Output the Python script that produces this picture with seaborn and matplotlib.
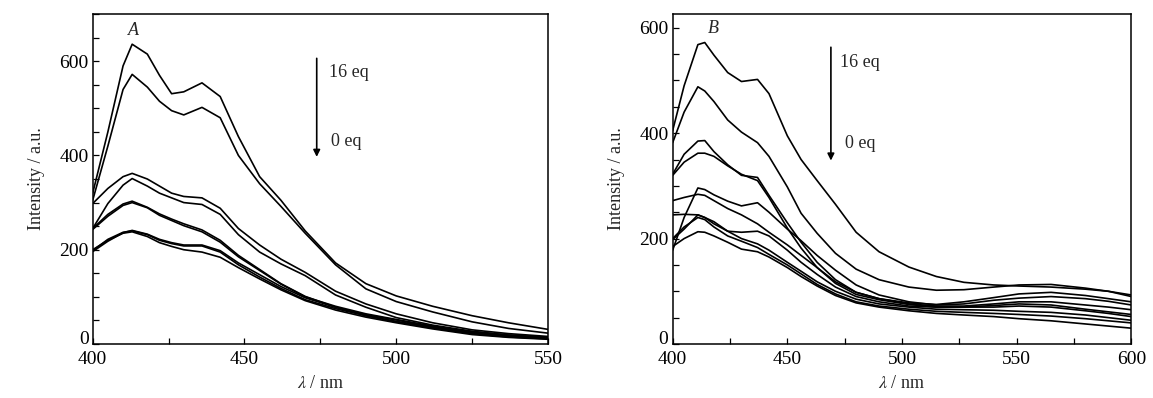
import numpy as np
import pandas as pd
import seaborn as sns
import matplotlib
matplotlib.use('Agg')
import matplotlib.pyplot as plt
import matplotlib.transforms as mtransforms
from matplotlib.ticker import MultipleLocator

sns.set_theme(style='ticks')
plt.rcParams['font.family'] = ['Liberation Serif', 'DejaVu Serif']
plt.rcParams['mathtext.fontset'] = 'stix'

# panel A : 400-550 nm
wl_a = [400, 405, 410, 413, 418, 422, 426, 430, 436, 442, 448,
        455, 462, 470, 480, 490, 500, 512, 525, 537, 550]
a1 = [320, 450, 590, 636, 615, 570, 531, 535, 554, 525, 440, 355, 305, 240, 172, 128, 102, 80, 60, 45, 31]
a2 = [305, 420, 540, 572, 545, 515, 495, 486, 502, 480, 400, 340, 292, 235, 168, 117, 90, 68, 47, 33, 23]
a3 = [298, 330, 355, 362, 350, 335, 320, 313, 310, 288, 245, 210, 180, 152, 112, 85, 64, 45, 30, 22, 16]
a4 = [245, 298, 337, 351, 335, 320, 310, 300, 296, 275, 232, 195, 170, 145, 104, 78, 56, 40, 27, 19, 14]
a5 = [245, 275, 297, 303, 290, 276, 265, 255, 242, 220, 188, 158, 128, 101, 78, 62, 51, 36, 24, 17, 12]
a6 = [243, 271, 294, 300, 289, 273, 262, 251, 238, 216, 185, 156, 127, 100, 80, 64, 52, 38, 26, 19, 14]
a7 = [198, 222, 237, 240, 232, 220, 213, 208, 208, 195, 168, 142, 118, 94, 75, 60, 48, 35, 23, 16, 12]
a8 = [200, 220, 235, 238, 228, 215, 207, 200, 195, 184, 162, 138, 115, 92, 72, 57, 45, 32, 20, 14, 10]
a9 = [196, 218, 236, 241, 233, 222, 215, 210, 210, 198, 172, 147, 122, 98, 78, 60, 47, 34, 22, 15, 11]
curves_a = [a1, a2, a3, a4, a5, a6, a7, a8, a9]

# panel B : 400-600 nm
wl_b = [400, 405, 411, 414, 418, 424, 430, 437, 442, 450, 456, 463,
        471, 480, 490, 503, 515, 527, 540, 551, 565, 580, 590, 600]
b1 = [405, 490, 568, 572, 548, 515, 498, 502, 475, 395, 350, 310, 265, 212, 175, 146, 128, 117, 112, 110, 108, 104, 100, 93]
b2 = [382, 440, 488, 480, 460, 425, 402, 382, 356, 298, 248, 210, 172, 142, 122, 108, 102, 103, 108, 112, 113, 106, 100, 90]
b3 = [322, 360, 385, 386, 365, 340, 320, 316, 282, 230, 193, 155, 122, 98, 86, 78, 75, 80, 88, 95, 98, 92, 86, 80]
b4 = [320, 345, 362, 362, 356, 338, 322, 310, 278, 220, 182, 145, 115, 94, 84, 75, 70, 70, 73, 76, 74, 66, 61, 56]
b5 = [178, 240, 296, 293, 283, 271, 262, 268, 250, 218, 196, 168, 140, 112, 93, 80, 74, 76, 83, 87, 90, 86, 81, 74]
b6 = [272, 278, 284, 282, 272, 257, 245, 228, 212, 188, 168, 145, 118, 98, 86, 76, 72, 72, 76, 80, 80, 74, 70, 65]
b7 = [245, 246, 245, 240, 228, 214, 212, 214, 205, 178, 155, 132, 108, 90, 80, 72, 70, 70, 70, 72, 70, 63, 58, 52]
b8 = [198, 218, 245, 240, 232, 214, 200, 190, 178, 155, 138, 118, 100, 85, 76, 70, 66, 65, 64, 62, 60, 55, 50, 45]
b9 = [200, 222, 240, 236, 222, 205, 195, 183, 170, 150, 133, 113, 95, 80, 72, 66, 62, 60, 58, 56, 53, 48, 44, 40]
b10 = [185, 200, 213, 212, 205, 193, 180, 175, 165, 145, 128, 110, 92, 78, 70, 63, 58, 55, 52, 48, 44, 38, 34, 30]
curves_b = [b1, b2, b3, b4, b5, b6, b7, b8, b9, b10]


def long_df(wl, curves):
    rows = []
    for k, c in enumerate(curves):
        for w, v in zip(wl, c):
            rows.append((k, w, v))
    return pd.DataFrame(rows, columns=['curve', 'wl', 'I'])


fig = plt.figure(figsize=(11.53, 3.98), dpi=100)
ax1 = fig.add_axes([0.0804, 0.1357, 0.3949, 0.829])
ax2 = fig.add_axes([0.5834, 0.1357, 0.3978, 0.829])

panels = [
    (ax1, wl_a, curves_a, (400, 550), (0, 700), 'A', (413.4, 666),
     (473.8, 606, 397), (477.9, 577), (478.4, 429)),
    (ax2, wl_b, curves_b, (400, 600), (0, 626), 'B', (417.7, 599),
     (469.0, 563, 348), (473.0, 535), (475.1, 380)),
]

# lift the "0" label a little so it clears the x tick label, as in the original
lift = mtransforms.ScaledTranslation(0, 5 / 72, fig.dpi_scale_trans)

for ax, wl, curves, xl, yl, tag, tagpos, arr, t16, t0 in panels:
    df = long_df(wl, curves)
    sns.lineplot(data=df, x='wl', y='I', units='curve', estimator=None,
                 color='black', lw=1.2, ax=ax, legend=False)
    ax.set_xlim(*xl)
    ax.set_ylim(*yl)
    ax.xaxis.set_major_locator(MultipleLocator(50))
    ax.xaxis.set_minor_locator(MultipleLocator(25))
    ax.yaxis.set_major_locator(MultipleLocator(200))
    ax.yaxis.set_minor_locator(MultipleLocator(50))
    ax.tick_params(which='both', direction='in', length=4, width=0.9,
                   top=False, right=False, labelsize=14, colors='black')
    ax.tick_params(axis='x', pad=5)
    ax.tick_params(axis='y', pad=3)
    for tick, loc in zip(ax.yaxis.get_major_ticks(), ax.yaxis.get_majorticklocs()):
        if loc == 0:
            tick.label1.set_transform(tick.label1.get_transform() + lift)
    for s in ax.spines.values():
        s.set_linewidth(1.1)
        s.set_color('black')
    ax.set_xlabel(r'$\lambda$ / nm', fontsize=13, labelpad=5)
    ax.set_ylabel('Intensity / a.u.', fontsize=13, labelpad=10)
    ax.text(tagpos[0], tagpos[1], tag, fontsize=13, style='italic',
            ha='center', va='center')
    ax.annotate('', xy=(arr[0], arr[2]), xytext=(arr[0], arr[1]),
                arrowprops=dict(arrowstyle='-|>', color='black', lw=1.2,
                                mutation_scale=10, shrinkA=0, shrinkB=0))
    ax.text(t16[0], t16[1], '16 eq', fontsize=13, ha='left', va='center')
    ax.text(t0[0], t0[1], '0 eq', fontsize=13, ha='left', va='center')

fig.savefig('out.png', dpi=100)
